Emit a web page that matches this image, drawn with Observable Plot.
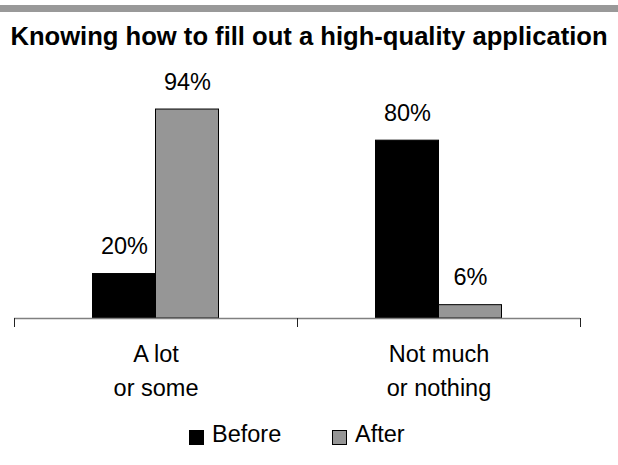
<!DOCTYPE html>
<html>
<head>
<meta charset="utf-8">
<script src="https://cdn.jsdelivr.net/npm/d3@7"></script>
<script src="https://cdn.jsdelivr.net/npm/@observablehq/plot@0.6"></script>
<style>
  html, body { margin: 0; padding: 0; background: #fff; }
  #wrap { position: relative; width: 618px; height: 465px; overflow: hidden;
          font-family: "Liberation Sans", Arial, sans-serif; color: #000; }
  #band { position: absolute; left: 0; top: 5px; width: 618px; height: 7px; background: #999999; }
  #title { position: absolute; left: 0; top: 24px; width: 618px; text-align: center;
           font-weight: bold; font-size: 25.6px; line-height: 25.6px; white-space: nowrap; }
  #chart { position: absolute; left: 0; top: 50px; }
  .leg { position: absolute; top: 423px; font-size: 23.5px; line-height: 23.5px; white-space: nowrap; }
  .leg .sw { position: absolute; left: 0; top: 7px; width: 13px; height: 13px; border: 1px solid #000; }
  .leg .lab { position: absolute; left: 23px; top: 0; }
</style>
</head>
<body>
<div id="wrap">
  <div id="band"></div>
  <div id="title"></div>
  <div id="chart"></div>
  <div id="legend"></div>
</div>
<script>
const title = "Knowing how to fill out a high-quality application";
const categories = ["A lot\nor some", "Not much\nor nothing"];
const series = ["Before", "After"];
const beforeValues = [20, 80];
const afterValues = [94, 6];
const colors = ["#000000", "#969696"];

document.getElementById("title").textContent = title;

const data = [];
categories.forEach((c, i) => {
  data.push({category: c, series: "Before", value: beforeValues[i]});
  data.push({category: c, series: "After", value: afterValues[i]});
});

const W = 618, H = 365, ML = 14, MR = 38, MT = 45.7, MB = 97;
const step = (W - ML - MR) / categories.length;
const barW = 63;
const fs = 23.5;

const before = data.filter(d => d.series === "Before");
const after = data.filter(d => d.series === "After");

const chart = Plot.plot({
  width: W, height: H,
  marginLeft: ML, marginRight: MR, marginTop: MT, marginBottom: MB,
  style: {fontFamily: "'Liberation Sans', Arial, sans-serif", fontSize: fs + "px", background: "transparent", overflow: "visible"},
  x: {type: "band", domain: categories, padding: 0, axis: null},
  y: {domain: [0, 100], axis: null},
  marks: [
    Plot.barY(before, {x: "category", y: "value", fill: colors[0], stroke: "#000", strokeWidth: 1,
      insetLeft: step / 2 - barW, insetRight: step / 2}),
    Plot.barY(after, {x: "category", y: "value", fill: colors[1], stroke: "#000", strokeWidth: 1,
      insetLeft: step / 2, insetRight: step / 2 - barW}),
    Plot.ruleY([0], {stroke: "#808080", strokeWidth: 1.6}),
    Plot.ruleX(categories, {x: d => d, y1: 0, y2: 0, dx: -step / 2, insetBottom: -9, stroke: "#222", strokeWidth: 1}),
    Plot.ruleX(categories.slice(-1), {x: d => d, y1: 0, y2: 0, dx: step / 2, insetBottom: -9, stroke: "#222", strokeWidth: 1}),
    Plot.text(before, {x: "category", y: "value", text: d => d.value + "%", dx: -barW / 2, dy: -20,
      lineAnchor: "bottom", fill: "#000", fontSize: fs}),
    Plot.text(after, {x: "category", y: "value", text: d => d.value + "%", dx: barW / 2, dy: -20,
      lineAnchor: "bottom", fill: "#000", fontSize: fs}),
    Plot.text(categories, {x: d => d, frameAnchor: "bottom", text: d => d, lineAnchor: "top",
      lineHeight: 1.43, dy: 20, fill: "#000", fontSize: fs})
  ]
});
document.getElementById("chart").appendChild(chart);

const legend = document.getElementById("legend");
const legLefts = [189, 332];
series.forEach((s, i) => {
  const item = document.createElement("div");
  item.className = "leg";
  item.style.left = legLefts[i] + "px";
  const sw = document.createElement("span");
  sw.className = "sw";
  sw.style.background = colors[i];
  const lab = document.createElement("span");
  lab.className = "lab";
  lab.textContent = s;
  item.appendChild(sw);
  item.appendChild(lab);
  legend.appendChild(item);
});
</script>
</body>
</html>
